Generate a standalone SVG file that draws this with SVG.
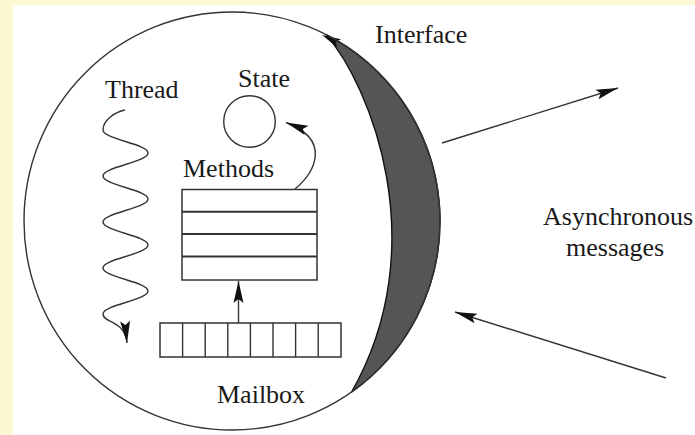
<svg xmlns="http://www.w3.org/2000/svg" width="695" height="435" viewBox="0 0 695 435">
  <defs>
    <style>
      .ln { fill: none; stroke: #333; stroke-width: 1.4; }
      .box { fill: #fff; stroke: #333; stroke-width: 1.5; }
      .row { stroke: #333; stroke-width: 2; }
      .lbl { font-family: "Liberation Serif", "Times New Roman", serif; font-size: 26px; fill: #1a1a1a; }
    </style>
    <marker id="head" markerUnits="userSpaceOnUse" viewBox="0 0 24 12" markerWidth="24" markerHeight="12" refX="22" refY="6" orient="auto" overflow="visible">
      <path d="M0,1 L22,6 L0,11 L4,6 Z" fill="#111"/>
    </marker>
  </defs>

  <!-- page -->
  <rect x="0" y="0" width="695" height="435" fill="#fcf8d4"/>
  <rect x="13" y="5" width="682" height="430" fill="#fff"/>

  <!-- interface band on the right side of the actor -->
  <g id="interface">
    <path d="M326,34.6 C370,85 435,245 351.6,392 A208,209 0 0 0 326,34.6 Z" fill="#555" stroke="#111" stroke-width="1.4" stroke-linejoin="round"/>
    <path d="M322,35 L341,39.2 L336,41.7 L337,47.2 Z" fill="#111"/>
    <text class="lbl" x="375" y="43">Interface</text>
  </g>

  <!-- actor outline -->
  <g id="actor">
    <ellipse cx="232" cy="221" rx="208" ry="209" class="ln"/>
  </g>

  <!-- thread -->
  <g id="thread">
    <text class="lbl" x="105" y="98">Thread</text>
  </g>

  <!-- state -->
  <g id="state">
    <circle cx="249.5" cy="121.5" r="25.8" class="ln"/>
    <text class="lbl" x="238" y="87">State</text>
  </g>

  <!-- methods table -->
  <g id="methods">
    <rect x="182" y="189.5" width="135" height="90.5" class="box"/>
    <line x1="182" y1="211.8" x2="317" y2="211.8" class="row"/>
    <line x1="182" y1="234" x2="317" y2="234" class="row"/>
    <line x1="182" y1="256.5" x2="317" y2="256.5" class="row"/>
    <text class="lbl" x="183" y="177">Methods</text>
  </g>

  <!-- mailbox queue -->
  <g id="mailbox">
    <rect x="160" y="323" width="181" height="34" class="box"/>
    <g class="ln">
      <line x1="182.6" y1="323" x2="182.6" y2="357"/>
      <line x1="205.2" y1="323" x2="205.2" y2="357"/>
      <line x1="227.8" y1="323" x2="227.8" y2="357"/>
      <line x1="250.4" y1="323" x2="250.4" y2="357"/>
      <line x1="273" y1="323" x2="273" y2="357"/>
      <line x1="295.6" y1="323" x2="295.6" y2="357"/>
      <line x1="318.2" y1="323" x2="318.2" y2="357"/>
    </g>
    <text class="lbl" x="217" y="403">Mailbox</text>
  </g>

  <!-- message label -->
  <g id="messages">
    <text class="lbl" x="543" y="225">Asynchronous</text>
    <text class="lbl" x="566" y="256">messages</text>
  </g>

  <!-- connectors -->
  <g id="connectors">
    <path class="ln" marker-end="url(#head)" d="M125,110 C115,112 103,120 103,130 C103,139 148,144 148,153 C148,162 103,167 103,176 C103,185 148,190 148,199 C148,208 103,213 103,222 C103,231 148,236 148,245 C148,254 103,259 103,268 C103,277 148,282 148,291 C148,300 103,305 103,314 C103,323 125,320 127,343"/>
    <path class="ln" marker-end="url(#head)" d="M295,189 C315,172 332,140 286,122.5"/>
    <line class="ln" marker-end="url(#head)" x1="238.5" y1="323" x2="238.5" y2="281"/>
    <line class="ln" marker-end="url(#head)" x1="442" y1="143" x2="618" y2="88"/>
    <line class="ln" marker-end="url(#head)" x1="666" y1="378" x2="455" y2="312"/>
  </g>
</svg>
